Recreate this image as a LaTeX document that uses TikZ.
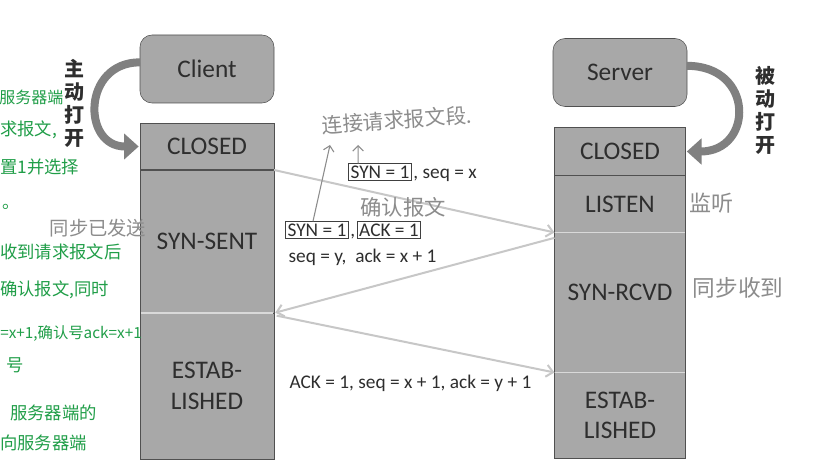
\documentclass[tikz,border=0pt]{standalone}
\usepackage{fontspec}
\setmainfont{Carlito}
\newfontfamily\cjk{Noto Sans CJK SC}
\usetikzlibrary{arrows.meta, positioning}
\definecolor{stateGray}{RGB}{168,168,168}
\definecolor{edgeGray}{RGB}{80,80,80}
\definecolor{inkGray}{RGB}{140,140,140}
\definecolor{penGreen}{RGB}{32,158,72}

\begin{document}
\begin{tikzpicture}[
    x=0.75pt, y=-0.75pt,
    every node/.style={font=\fontsize{19}{23}\selectfont, text=black!82},
    host/.style={draw=edgeGray, fill=stateGray, rounded corners=9pt, minimum width=100.5pt, minimum height=51pt, inner sep=0pt, outer sep=0pt},
    state/.style={draw=edgeGray, fill=stateGray, minimum width=100.5pt, inner sep=0pt, outer sep=0pt, align=center},
    divider/.style={draw=white!70!gray, line width=1pt, shorten <=0.6pt, shorten >=0.6pt},
    msg/.style={draw=black!22, line width=1.5pt, -{Straight Barb[length=5pt, width=9pt]}},
    turnarrow/.style={draw=black!50, line width=6pt, shorten >=1pt, -{Triangle[length=11pt, width=19pt]}},
    flag/.style={draw=black!75, line width=0.6pt, inner sep=1.5pt, font=\fontsize{14.5}{17}\selectfont},
    msgtext/.style={inner sep=1pt, font=\fontsize{14.5}{17}\selectfont},
    vlabel/.style={align=center, font=\cjk\bfseries\fontsize{15}{17.25}\selectfont},
    note/.style={text=inkGray, inner sep=0pt, font=\cjk\fontsize{15.5}{18}\selectfont},
    pen/.style={draw=inkGray, line width=0.8pt, -{Straight Barb[length=4pt, width=8pt]}},
    greennote/.style={anchor=west, text=penGreen, inner sep=0pt, font=\cjk\fontsize{13}{15}\selectfont}
]
\useasboundingbox (0,0) rectangle (839,473);
\fill [white] (0,0) rectangle (839,473);

% client side
\node (client) [host] at (207,69) {Client};
\node (cclosed) [state, minimum height=35.25pt, below=15pt of client] {CLOSED};
\node (csent) [state, minimum height=107.25pt, below=0pt of cclosed] {SYN-SENT};
\node (cest) [state, minimum height=109.5pt, below=0pt of csent] {ESTAB-\\LISHED};

% server side
\node (server) [host] at (620,72.5) {Server};
\node (sclosed) [state, minimum width=98.25pt, minimum height=36pt, below=15.75pt of server] {CLOSED};
\node (slisten) [state, minimum width=98.25pt, minimum height=42.75pt, below=0pt of sclosed] {LISTEN};
\node (srcvd) [state, minimum width=98.25pt, minimum height=105pt, text depth=16pt, below=0pt of slisten] {SYN-RCVD};
\node (sest) [state, minimum width=98.25pt, minimum height=64.5pt, below=0pt of srcvd] {ESTAB-\\LISHED};

\draw [edgeGray, line width=1.2pt] (cclosed.south west) -- (cclosed.south east);
\draw [edgeGray, line width=1.2pt] (sclosed.south west) -- (sclosed.south east);
\draw [divider] (csent.south west) -- (csent.south east);
\draw [divider] (slisten.south west) -- (slisten.south east);
\draw [divider] (srcvd.south west) -- (srcvd.south east);

% open arrows
\draw [turnarrow] ([yshift=5pt]client.west) .. controls +(-58,0) and +(-58,0) .. (cclosed.west);
\draw [turnarrow] ([yshift=5pt]server.east) .. controls +(68,0) and +(68,0) .. (sclosed.east);
\node (activeopen) [vlabel] at (74,103) {主\\动\\打\\开};
\node (passiveopen) [vlabel] at (765,110) {被\\动\\打\\开};

% handshake
\draw [msg] (csent.north east) -- (slisten.south west);
\draw [msg, shorten >=1pt] ([yshift=-4pt]srcvd.north west) -- (cest.north east);
\draw [msg] ([xshift=2pt, yshift=-2pt]cest.north east) -- (sest.north west);

\node (synA) [flag] at (380,172) {SYN = 1};
\node (seqA) [msgtext, anchor=base west] at (synA.base east) {, seq = x};
\node (synB) [flag] at (317,230) {SYN = 1};
\node (commaB) [msgtext, anchor=base west] at (synB.base east) {,};
\node (ackB) [flag, anchor=base west] at (commaB.base east) {ACK = 1};
\node (seqB) [msgtext, anchor=west] at (287,257) {seq = y,\ \ ack = x + 1};
\node (ackC) [msgtext, anchor=west] at (288,383) {ACK = 1, seq = x + 1, ack = y + 1};

% pencil notes
\node (reqnote) [note, rotate=4] at (397,120) {连接请求报文段.};
\node (acknote) [note, font=\cjk\fontsize{16}{18}\selectfont] at (403,207) {确认报文};
\node (sentnote) [note, font=\cjk\fontsize{14.5}{17}\selectfont] at (98,228) {同步已发送};
\node (listennote) [note, font=\cjk\fontsize{16.5}{18}\selectfont] at (711,203) {监听};
\node (rcvdnote) [note, font=\cjk\fontsize{17}{19}\selectfont] at (738,288) {同步收到};
\coordinate (reqtipA) at (330,145);
\coordinate (reqtipB) at (358,145);
\draw [pen] ([xshift=-3pt]synB.north) -- (reqtipA);
\draw [pen] ([xshift=7.5pt]synA.north west) -- (reqtipB);

% green margin notes
\node (g1) [greennote, font=\cjk\fontsize{12}{14}\selectfont] at (-1,97) {服务器端};
\node (g2) [greennote] at (0,130) {求报文,};
\node (g3) [greennote] at (0,167) {置1并选择};
\node (g4) [greennote] at (2,207) {。};
\node (g5) [greennote] at (0,252) {收到请求报文后};
\node (g6) [greennote] at (0,290) {确认报文,同时};
\node (g7) [greennote, font=\cjk\fontsize{11.5}{14}\selectfont] at (0,333) {=x+1,确认号ack=x+1};
\node (g8) [greennote] at (6,365) {号};
\node (g9) [greennote] at (10,413) {服务器端的};
\node (g10) [greennote] at (0,443) {向服务器端};

\end{tikzpicture}
\end{document}
